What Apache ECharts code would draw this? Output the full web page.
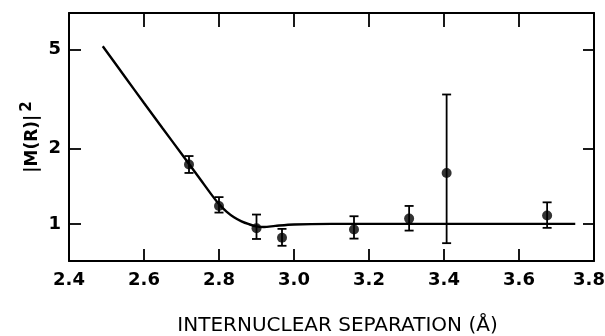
<!DOCTYPE html>
<html>
<head>
<meta charset="utf-8">
<script src="https://cdn.jsdelivr.net/npm/echarts@6/dist/echarts.min.js"></script>
<style>
  html, body { margin: 0; padding: 0; background: #fff; }
  #chart { width: 605px; height: 336px; }
</style>
</head>
<body>
<div id="chart"></div>
<script>
// measured points: separation (Å), |M(R)|^2, error bar low / high
var sepPoints = [2.72, 2.80, 2.90, 2.968, 3.16, 3.307, 3.407, 3.675];
var mValues   = [1.73, 1.18, 0.96, 0.88, 0.95, 1.05, 1.60, 1.08];
var errLow    = [1.60, 1.11, 0.87, 0.817, 0.873, 0.94, 0.837, 0.964];
var errHigh   = [1.87, 1.28, 1.09, 0.955, 1.073, 1.18, 3.30, 1.22];

// fitted curve
var curveX = [2.49, 2.55, 2.60, 2.65, 2.70, 2.75, 2.78, 2.80, 2.82, 2.84, 2.86, 2.88, 2.90, 2.92, 2.95, 3.00, 3.10, 3.40, 3.75];
var curveY = [5.15, 3.87, 3.05, 2.41, 1.91, 1.51, 1.31, 1.20, 1.12, 1.063, 1.024, 0.997, 0.977, 0.972, 0.982, 0.995, 1.0, 1.0, 1.0];

var yTicks = [1, 2, 5];

var myChart = echarts.init(document.getElementById('chart'));

var points = sepPoints.map(function (x, i) { return [x, mValues[i]]; });
var bars = sepPoints.map(function (x, i) { return [x, errLow[i], errHigh[i]]; });
var curve = curveX.map(function (x, i) { return [x, curveY[i]]; });

function renderErr(params, api) {
  var lo = api.coord([api.value(0), api.value(1)]);
  var hi = api.coord([api.value(0), api.value(2)]);
  var w = 4.5;
  var st = { stroke: '#000', lineWidth: 1.8 };
  return {
    type: 'group',
    children: [
      { type: 'line', shape: { x1: lo[0], y1: lo[1], x2: hi[0], y2: hi[1] }, style: st },
      { type: 'line', shape: { x1: lo[0] - w, y1: lo[1], x2: lo[0] + w, y2: lo[1] }, style: st },
      { type: 'line', shape: { x1: hi[0] - w, y1: hi[1], x2: hi[0] + w, y2: hi[1] }, style: st }
    ]
  };
}

var axisLine = { show: true, lineStyle: { color: '#000', width: 2 } };
var tickStyle = { color: '#000', width: 1.8 };
var labelFont = { color: '#000', fontFamily: 'DejaVu Sans', fontSize: 18, fontWeight: 'bold' };

var option = {
  backgroundColor: '#fff',
  animation: false,
  grid: { left: 69, right: 11, top: 13, bottom: 75, outerBoundsMode: 'none', containLabel: false },
  xAxis: [{
    type: 'value',
    min: 2.4, max: 3.8, interval: 0.2,
    axisLine: axisLine,
    axisTick: { inside: true, length: 12, lineStyle: tickStyle },
    splitLine: { show: false },
    axisLabel: Object.assign({
      margin: 10,
      formatter: function (v) {
        var s = v.toFixed(1);
        // last label sits pulled in toward the frame, as in the original
        return v >= 3.79 ? '{r|' + s + '}' : s;
      },
      rich: { r: { fontFamily: 'DejaVu Sans', fontSize: 18, fontWeight: 'bold', color: '#000', padding: [0, 10, 0, 0] } }
    }, labelFont),
    name: 'INTERNUCLEAR SEPARATION (Å)',
    nameLocation: 'middle',
    nameGap: 55,
    nameMoveOverlap: false,
    nameTextStyle: { color: '#000', fontFamily: 'DejaVu Sans', fontSize: 20, padding: [0, 0, 0, 12] }
  }, {
    type: 'value',
    position: 'top',
    min: 2.4, max: 3.8, interval: 0.2,
    axisLine: axisLine,
    axisTick: { inside: true, length: 14, lineStyle: tickStyle },
    splitLine: { show: false },
    axisLabel: { show: false }
  }],
  yAxis: [{
    type: 'log',
    min: 0.71, max: 7,
    axisLine: axisLine,
    axisTick: { inside: true, length: 12, lineStyle: tickStyle, customValues: yTicks },
    splitLine: { show: false },
    axisLabel: Object.assign({ margin: 8, customValues: yTicks }, labelFont),
    name: '|M(R)|{s|2}',
    nameLocation: 'middle',
    nameRotate: 90,
    nameGap: 24,
    nameMoveOverlap: false,
    nameTextStyle: {
      color: '#000', fontFamily: 'DejaVu Sans', fontSize: 17, fontWeight: 'bold',
      rich: { s: { fontSize: 15, fontWeight: 'bold', fontFamily: 'DejaVu Sans', padding: [0, 0, 10, 3] } }
    }
  }, {
    type: 'log',
    position: 'right',
    min: 0.71, max: 7,
    axisLine: axisLine,
    axisTick: { inside: true, length: 11, lineStyle: tickStyle, customValues: yTicks },
    splitLine: { show: false },
    axisLabel: { show: false }
  }],
  series: [{
    type: 'line',
    data: curve,
    smooth: 0.3,
    showSymbol: false,
    lineStyle: { color: '#000', width: 2.4 }
  }, {
    type: 'custom',
    renderItem: renderErr,
    data: bars,
    z: 3
  }, {
    type: 'scatter',
    data: points,
    symbol: 'circle',
    symbolSize: 10,
    itemStyle: { color: '#000' },
    z: 4
  }]
};
myChart.setOption(option);
</script>
</body>
</html>
